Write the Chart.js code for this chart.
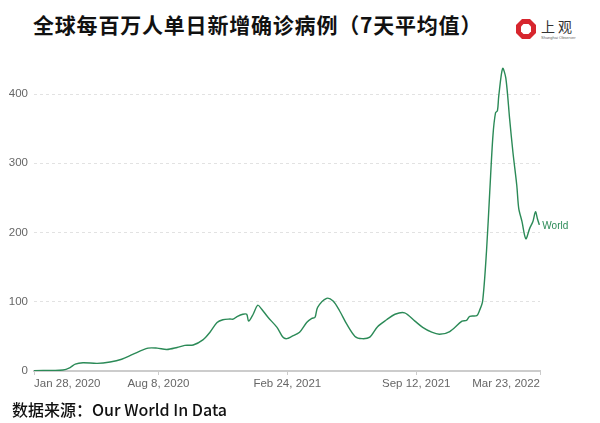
<!DOCTYPE html>
<html>
<head>
<meta charset="utf-8">
<script src="https://cdn.jsdelivr.net/npm/chart.js@4/dist/chart.umd.min.js"></script>
<style>
  body { margin: 0; background: #fff; width: 600px; height: 423px; position: relative; overflow: hidden; font-family: "Noto Sans CJK SC", "Liberation Sans", sans-serif; }
  #title { position: absolute; left: 33px; top: 9px; font-size: 21px; font-weight: bold; color: #111; letter-spacing: 0.8px; }
  #logo { position: absolute; left: 515px; top: 18px; }
  #logo .cn { position: absolute; left: 26px; top: -2px; font-size: 14px; color: #333; letter-spacing: 3px; white-space: nowrap; }
  #logo .en { position: absolute; left: 26px; top: 17px; font-size: 4px; color: #666; white-space: nowrap; font-family: "Liberation Sans", sans-serif; }
  #wrap { position: absolute; left: 0; top: 50px; width: 600px; height: 350px; }
  #source { position: absolute; left: 12px; top: 397px; font-size: 16px; color: #111; font-weight: 500; }
</style>
</head>
<body>
<div id="title">全球每百万人单日新增确诊病例（7天平均值）</div>
<div id="logo">
  <svg width="22" height="22" viewBox="0 0 22 22">
    <polygon points="7,1 15,1 21,7 21,15 15,21 7,21 1,15 1,7" fill="#d7262e"/>
    <polygon points="8.5,6 13.5,6 16,8.5 16,13.5 13.5,16 8.5,16 6,13.5 6,8.5" fill="#fff"/>
  </svg>
  <span class="cn">上观</span>
  <span class="en">Shanghai Observer</span>
</div>
<div id="wrap"><canvas id="chart"></canvas></div>
<div id="source">数据来源：Our World In Data</div>
<script>
// days since Jan 28, 2020
const days = [0, 45, 56, 64, 76, 98, 118, 136, 153, 177, 191, 206, 222, 234, 247, 262, 273, 284, 293, 304, 309, 315, 324, 330, 333, 340, 347, 353, 363, 377, 386, 392, 400, 412, 423, 431, 436, 440, 454, 464, 474, 485, 498, 509, 521, 533, 547, 560, 575, 591, 603, 617, 629, 645, 664, 671, 676, 687, 691, 696, 702, 707, 712, 716, 719, 721, 727, 732, 738, 743, 749, 752, 757, 763, 769, 774, 778, 781, 784];
const worldCases = [0.5, 1.5, 5, 10, 12, 11, 13, 17, 24, 33, 33, 31, 34, 37, 37.6, 45, 56, 70, 74, 75, 75, 78.5, 82, 82, 72, 82, 95, 89.5, 77.6, 63, 49, 46.7, 50, 56, 70, 76, 77.6, 92, 105, 101, 87, 68, 50, 46.7, 49, 64, 74, 82, 84, 72, 63, 56, 53, 57, 72, 73, 79, 80, 87, 101, 173, 258, 340, 373, 376, 397, 437, 423, 363, 316, 268, 235, 216, 191, 206, 216, 230, 220, 211];
const tickDays = [0, 193, 393, 593, 785];
const tickLabels = ['Jan 28, 2020', 'Aug 8, 2020', 'Feb 24, 2021', 'Sep 12, 2021', 'Mar 23, 2022'];
const seriesName = 'World';
const lineColor = '#2b8a57';

const endLabel = {
    id: 'endLabel',
    afterDatasetsDraw(chart) {
        const meta = chart.getDatasetMeta(0);
        const last = meta.data[meta.data.length - 1];
        const c = chart.ctx;
        c.save();
        c.font = '10px "Liberation Sans", Arial, sans-serif';
        c.fillStyle = lineColor;
        c.textBaseline = 'middle';
        c.fillText(seriesName, last.x + 3, last.y + 1);
        c.restore();
    }
};

const ctx = document.getElementById('chart').getContext('2d');
new Chart(ctx, {
    type: 'line',
    data: {
        datasets: [{
            label: seriesName,
            data: days.map((d, i) => ({ x: d, y: worldCases[i] })),
            borderColor: lineColor,
            borderWidth: 1.4,
            pointRadius: 0,
            tension: 0.3,
            fill: false
        }]
    },
    options: {
        responsive: true,
        maintainAspectRatio: false,
        animation: false,
        layout: { padding: { top: 8, right: 60, left: 0, bottom: 0 } },
        plugins: { legend: { display: false }, tooltip: { enabled: false } },
        scales: {
            x: {
                type: 'linear',
                min: 0,
                max: 785,
                afterBuildTicks: scale => { scale.ticks = tickDays.map(v => ({ value: v })); },
                afterFit: scale => { scale.height = 29; },
                grid: { drawOnChartArea: false, drawTicks: true, tickLength: 4, color: '#cccccc' },
                border: { display: true, color: '#cccccc', width: 2 },
                ticks: {
                    align: 'inner',
                    maxRotation: 0,
                    padding: 2,
                    color: '#666',
                    font: { size: 11.5, family: '"Liberation Sans", Arial, sans-serif' },
                    callback: (v, i) => tickLabels[i]
                }
            },
            y: {
                min: 0,
                max: 445,
                afterBuildTicks: scale => { scale.ticks = [0, 100, 200, 300, 400].map(v => ({ value: v })); },
                afterFit: scale => { scale.width = 34; },
                grid: { color: '#e2e2e2', drawTicks: false },
                border: { display: false, dash: [3, 3] },
                ticks: {
                    padding: 6,
                    color: '#666',
                    font: { size: 11.5, family: '"Liberation Sans", Arial, sans-serif' }
                }
            }
        }
    },
    plugins: [endLabel]
});
</script>
</body>
</html>
